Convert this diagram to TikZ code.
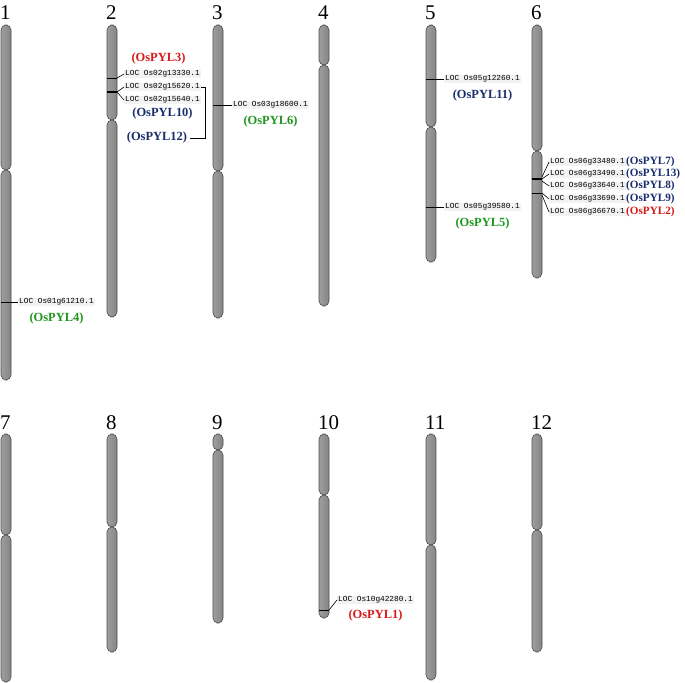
\documentclass[tikz,border=0pt]{standalone}
\usepackage{fontspec}
\setmainfont{Liberation Serif}
\setmonofont{Liberation Mono}
\usetikzlibrary{positioning}
\definecolor{pylred}{RGB}{215,25,25}
\definecolor{pylblue}{RGB}{25,45,110}
\definecolor{pylgreen}{RGB}{30,150,30}
\tikzstyle{chrom}=[draw=black!70, line width=0.6bp, rounded corners=5bp, left color=black!38, middle color=black!18, right color=black!48]
\tikzstyle{chrnum}=[font=\fontsize{21}{21}\selectfont, inner sep=0pt, anchor=base west]
\tikzstyle{loc}=[font=\ttfamily\fontsize{7.8}{8}\selectfont, fill=black!5, inner sep=1bp, anchor=west]
\tikzstyle{pyl}=[font=\bfseries\fontsize{12.5}{13}\selectfont, inner sep=0pt]
\tikzstyle{pylsmall}=[pyl, font=\bfseries\fontsize{11.2}{12}\selectfont]
\tikzstyle{band}=[line width=0.8bp]
\tikzstyle{thickband}=[line width=1.6bp]
\tikzstyle{conn}=[line width=0.6bp]

\begin{document}
\begin{tikzpicture}[x=1bp, y=-1bp]
	\useasboundingbox (0,0) rectangle (685,683);
	\foreach \cx/\ytop/\ycen/\ybot/\num in {6/25/170/380/1, 112/25/120/317/2, 218/25/171/318/3,
		324/25/65/306/4, 431/25/127/262/5, 537/25/151/278/6, 6/434/535/682/7, 112/434/527/652/8,
		218/434/450/623/9, 324/434/495/618/10, 431/434/545/680/11, 537/434/530/652/12}{
		\draw[chrom] (\cx-5,\ytop) rectangle (\cx+5,\ycen);
		\draw[chrom] (\cx-5,\ycen) rectangle (\cx+5,\ybot);
		\node[chrnum] (n\num) at (\cx-6,\ytop-5) {\num};
	}
	% chromosome 1
	\coordinate (c1a) at (1,302);
	\node[loc] (l1) at (18,302) {LOC Os01g61210.1};
	\node[pyl, text=pylgreen, below=6bp of l1] (pyl4) {(OsPYL4)};
	\draw[conn] (c1a) -- (l1.west);
	% chromosome 2
	\draw[band] (107,78) -- (117,78);
	\draw[thickband] (107,92) -- (117,92);
	\coordinate (c2a) at (117,78);
	\coordinate (c2b) at (117,92);
	\node[loc] (l2a) at (124,74) {LOC Os02g13330.1};
	\node[loc] (l2b) at (124,87) {LOC Os02g15620.1};
	\node[loc] (l2c) at (124,100) {LOC Os02g15640.1};
	\node[pyl, text=pylred, above=5bp of l2a, xshift=-4bp] (pyl3) {(OsPYL3)};
	\node[pyl, text=pylblue, below=3bp of l2c] (pyl10) {(OsPYL10)};
	\node[pyl, text=pylblue] (pyl12) at (157,138) {(OsPYL12)};
	\draw[conn] (c2a) -- (l2a.west);
	\draw[conn] (c2b) -- (l2b.west);
	\draw[conn] (c2b) -- (l2c.west);
	\draw[conn] (l2b.east) -- ++(4,0) |- ([xshift=3bp]pyl12.east);
	% chromosome 3
	\coordinate (c3a) at (213,105);
	\node[loc] (l3) at (232,105) {LOC Os03g18600.1};
	\node[pyl, text=pylgreen, below=6bp of l3] (pyl6) {(OsPYL6)};
	\draw[conn] (c3a) -- (l3.west);
	% chromosome 5
	\coordinate (c5a) at (426,79);
	\coordinate (c5b) at (426,207);
	\node[loc] (l5a) at (444,79) {LOC Os05g12260.1};
	\node[loc] (l5b) at (444,207) {LOC Os05g39580.1};
	\node[pyl, text=pylblue, below=6bp of l5a] (pyl11) {(OsPYL11)};
	\node[pyl, text=pylgreen, below=6bp of l5b] (pyl5) {(OsPYL5)};
	\draw[conn] (c5a) -- (l5a.west);
	\draw[conn] (c5b) -- (l5b.west);
	% chromosome 6
	\draw[thickband] (532,179) -- (542,179);
	\draw[band] (532,193) -- (542,193);
	\coordinate (c6a) at (542,177);
	\coordinate (c6b) at (542,179);
	\coordinate (c6c) at (542,181);
	\coordinate (c6d) at (542,193);
	\coordinate (c6e) at (542,195);
	\node[loc] (l6a) at (549,162) {LOC Os06g33480.1};
	\node[loc] (l6b) at (549,174) {LOC Os06g33490.1};
	\node[loc] (l6c) at (549,186) {LOC Os06g33640.1};
	\node[loc] (l6d) at (549,199) {LOC Os06g33690.1};
	\node[loc] (l6e) at (549,212) {LOC Os06g36670.1};
	\node[pylsmall, text=pylblue, right=0pt of l6a] (pyl7) {(OsPYL7)};
	\node[pylsmall, text=pylblue, right=0pt of l6b] (pyl13) {(OsPYL13)};
	\node[pylsmall, text=pylblue, right=0pt of l6c] (pyl8) {(OsPYL8)};
	\node[pylsmall, text=pylblue, right=0pt of l6d] (pyl9) {(OsPYL9)};
	\node[pylsmall, text=pylred, right=0pt of l6e] (pyl2) {(OsPYL2)};
	\draw[conn] (c6a) -- (l6a.west);
	\draw[conn] (c6b) -- (l6b.west);
	\draw[conn] (c6c) -- (l6c.west);
	\draw[conn] (c6d) -- (l6d.west);
	\draw[conn] (c6e) -- (l6e.west);
	% chromosome 10
	\draw[band] (319,610) -- (329,610);
	\coordinate (c10a) at (329,610);
	\node[loc] (l10) at (337,600) {LOC Os10g42280.1};
	\node[pyl, text=pylred, below=5bp of l10] (pyl1) {(OsPYL1)};
	\draw[conn] (c10a) -- (l10.west);
\end{tikzpicture}
\end{document}
